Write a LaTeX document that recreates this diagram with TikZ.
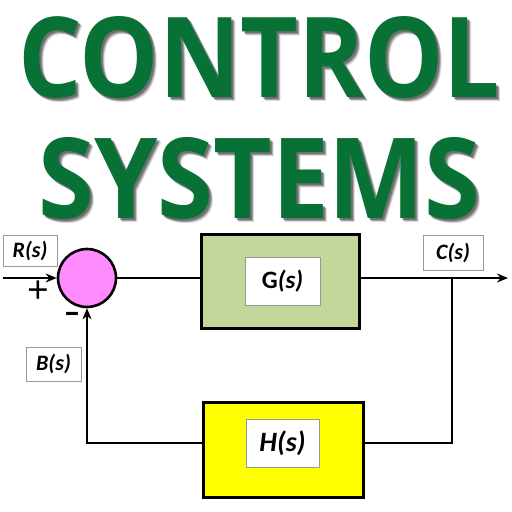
\documentclass[tikz,border=0pt]{standalone}
\usepackage{fontspec}
\setmainfont{Open Sans}
\newfontfamily\lblfont{Carlito}
\usetikzlibrary{arrows.meta,calc}
\definecolor{titlegreen}{RGB}{8,114,54}
\definecolor{sumpink}{RGB}{255,140,255}
\definecolor{gfill}{RGB}{196,215,155}
\definecolor{hfill}{RGB}{255,255,0}
\tikzset{
  title/.style={inner sep=0pt, anchor=base west, font=\bfseries},
  sumc/.style={circle, draw=black, line width=2.6pt, fill=sumpink, minimum size=58pt, inner sep=0pt},
  blockbox/.style={draw=black, line width=3pt, inner sep=0pt},
  lbl/.style={draw=gray!80, line width=0.8pt, fill=white, inner sep=0pt, font=\lblfont\bfseries\itshape\fontsize{22}{22}\selectfont},
  wire/.style={line width=2.4pt, line cap=rect},
  arrowwire/.style={line width=2.4pt, -{Stealth[length=11pt,width=9pt]}},
  sign/.style={inner sep=0pt}
}
\begin{document}
\begin{tikzpicture}[x=1pt,y=-1pt]
\useasboundingbox (0,0) rectangle (512,512);
\fill[white] (0,0) rectangle (512,512);
% title shadows
\foreach \d/\o in {4/0.15,3/0.25,2/0.3}{
  \node[title, text=black, opacity=\o] at (18+\d,97+\d) {\resizebox{482pt}{81pt}{CONTROL}};
  \node[title, text=black, opacity=\o] at (38+\d,218+\d) {\resizebox{442pt}{81pt}{SYSTEMS}};
}
\node[title, text=titlegreen] (t1) at (18,97) {\resizebox{482pt}{81pt}{CONTROL}};
\node[title, text=titlegreen] (t2) at (38,218) {\resizebox{442pt}{81pt}{SYSTEMS}};

% blocks
\node[sumc] (sum) at (87,278) {};
\node[blockbox, fill=gfill, minimum width=158pt, minimum height=94pt] (G) at (280,281) {};
\node[blockbox, fill=hfill, minimum width=160pt, minimum height=95pt] (H) at (283,449.5) {};
\node[lbl, minimum width=75pt, minimum height=48pt, font=\lblfont\bfseries\fontsize{25}{25}\selectfont] (Gl) at (282.5,281) {G\textit{(s)}};
\node[lbl, minimum width=73pt, minimum height=48pt, font=\lblfont\bfseries\itshape\fontsize{28}{28}\selectfont] (Hl) at (282.5,443) {H(s)};

% signal labels
\node[lbl, minimum width=54pt, minimum height=31pt] (R) at (30,250.5) {R(s)};
\node[lbl, minimum width=60pt, minimum height=35pt] (C) at (453,252.5) {C(s)};
\node[lbl, minimum width=55pt, minimum height=34pt] (B) at (53.5,364) {B(s)};

% signs
\node[sign, font=\fontsize{38}{38}\selectfont] (plus) at (38,292) {+};
\node[sign, font=\bfseries\fontsize{28}{28}\selectfont] (minus) at (72,317) {–};

% connectors
\coordinate (in) at (3,278);
\coordinate (out) at (508,278);
\coordinate (br) at (452,278);
\coordinate (brd) at (452,443);
\coordinate (fbl) at (sum.south |- brd);
\draw[arrowwire] (in) -- (sum.west);
\draw[wire] (sum.east) -- (sum.east -| G.west);
\draw[arrowwire] (sum.east -| G.east) -- (out);
\draw[wire] (br) -- (brd) -- (brd -| H.east);
\draw[wire] (brd -| H.west) -- (fbl);
\draw[arrowwire] (fbl) -- (sum.south);
\end{tikzpicture}
\end{document}
